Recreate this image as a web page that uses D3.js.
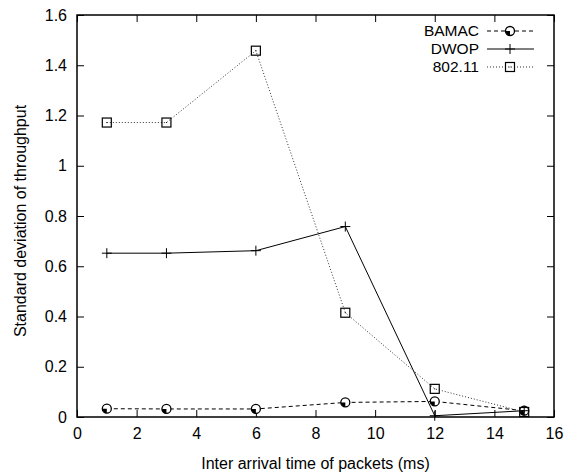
<!DOCTYPE html>
<html>
<head>
<meta charset="utf-8">
<script src="https://cdn.jsdelivr.net/npm/d3@7"></script>
<style>
  body { margin: 0; background: #fff; }
  svg { display: block; font-family: "Liberation Sans", Arial, sans-serif; }
</style>
</head>
<body>
<div id="chart"></div>
<script>
// values
const xValues = [1, 3, 6, 9, 12, 15];
const bamac = [0.033, 0.032, 0.032, 0.058, 0.062, 0.025];
const dwop = [0.652, 0.652, 0.662, 0.758, 0.005, 0.025];
const ieee = [1.172, 1.172, 1.458, 0.415, 0.112, 0.02];
const xTicks = [0, 2, 4, 6, 8, 10, 12, 14, 16];
const yTicks = [0, 0.2, 0.4, 0.6, 0.8, 1, 1.2, 1.4, 1.6];

const series = [
  { name: 'BAMAC', values: bamac, dash: '4,3', marker: 'circle' },
  { name: 'DWOP', values: dwop, dash: null, marker: 'plus' },
  { name: '802.11', values: ieee, dash: '1,2', marker: 'square' }
];

const W = 570, H = 475;
const margin = { top: 15, right: 16, bottom: 58, left: 77 };
const width = W - margin.left - margin.right;
const height = H - margin.top - margin.bottom;

const svg = d3.select('#chart').append('svg')
  .attr('width', W)
  .attr('height', H);

const g = svg.append('g')
  .attr('transform', `translate(${margin.left},${margin.top})`);

const x = d3.scaleLinear().domain([0, 16]).range([0, width]);
const y = d3.scaleLinear().domain([0, 1.6]).range([height, 0]);

const tickLen = 7;

// ticks, gnuplot style: inward and mirrored
g.append('g')
  .attr('transform', `translate(0,${height})`)
  .call(d3.axisBottom(x).tickValues(xTicks).tickSizeInner(-tickLen).tickSizeOuter(0).tickPadding(11).tickFormat(d3.format('d')))
  .call(a => a.select('.domain').remove())
  .call(a => a.selectAll('text').style('font-size', '16px').attr('fill', '#000'));

g.append('g')
  .call(d3.axisTop(x).tickValues(xTicks).tickSizeInner(-tickLen).tickSizeOuter(0).tickFormat(''))
  .call(a => a.select('.domain').remove());

g.append('g')
  .call(d3.axisLeft(y).tickValues(yTicks).tickSizeInner(-tickLen).tickSizeOuter(0).tickPadding(10).tickFormat(d => d3.format('')(+d.toFixed(1))))
  .call(a => a.select('.domain').remove())
  .call(a => a.selectAll('text').style('font-size', '16px').attr('fill', '#000'));

g.append('g')
  .attr('transform', `translate(${width},0)`)
  .call(d3.axisRight(y).tickValues(yTicks).tickSizeInner(-tickLen).tickSizeOuter(0).tickFormat(''))
  .call(a => a.select('.domain').remove());

g.selectAll('.tick line').attr('stroke', '#000');

// frame
g.append('rect')
  .attr('width', width)
  .attr('height', height)
  .attr('fill', 'none')
  .attr('stroke', '#000')
  .attr('stroke-width', 1.5);

// axis titles
svg.append('text')
  .attr('x', margin.left + width / 2)
  .attr('y', 469)
  .attr('text-anchor', 'middle')
  .style('font-size', '16px')
  .text('Inter arrival time of packets (ms)');

svg.append('text')
  .attr('transform', 'translate(26,221) rotate(-90)')
  .attr('text-anchor', 'middle')
  .style('font-size', '16px')
  .text('Standard deviation of throughput');

function drawMarker(sel, type) {
  if (type === 'circle') {
    sel.append('circle').attr('r', 4.5).attr('fill', '#fff').attr('stroke', '#000').attr('stroke-width', 1.3);
    sel.append('path').attr('d', 'M-4.5,0 A4.5,4.5 0 0,0 0,4.5 L0,0 Z').attr('fill', '#000');
  } else if (type === 'plus') {
    sel.append('path').attr('d', 'M-5,0H5M0,-5V5').attr('stroke', '#000').attr('stroke-width', 1);
  } else {
    sel.append('rect').attr('x', -4.5).attr('y', -4.5).attr('width', 9).attr('height', 9)
      .attr('fill', 'none').attr('stroke', '#000').attr('stroke-width', 1.2);
    sel.append('rect').attr('x', -0.5).attr('y', -0.5).attr('width', 1).attr('height', 1).attr('fill', '#000');
  }
}

const line = d3.line()
  .x((d, i) => x(xValues[i]))
  .y(d => y(d));

series.forEach(s => {
  g.append('path')
    .datum(s.values)
    .attr('d', line)
    .attr('fill', 'none')
    .attr('stroke', s.dash === '1,2' ? '#333' : '#000')
    .attr('stroke-width', 1)
    .attr('stroke-dasharray', s.dash);

  g.selectAll(null)
    .data(s.values)
    .enter()
    .append('g')
    .attr('transform', (d, i) => `translate(${x(xValues[i])},${y(d)})`)
    .each(function () { drawMarker(d3.select(this), s.marker); });
});

// legend
const legend = svg.append('g');
series.forEach((s, i) => {
  const ly = 31 + i * 18;
  legend.append('text')
    .attr('x', 479)
    .attr('y', ly)
    .attr('dy', '0.35em')
    .attr('text-anchor', 'end')
    .style('font-size', '15.5px')
    .text(s.name);
  legend.append('line')
    .attr('x1', 487).attr('x2', 534)
    .attr('y1', ly).attr('y2', ly)
    .attr('stroke', s.dash === '1,2' ? '#333' : '#000')
    .attr('stroke-dasharray', s.dash);
  drawMarker(legend.append('g').attr('transform', `translate(510,${ly})`), s.marker);
});
</script>
</body>
</html>
